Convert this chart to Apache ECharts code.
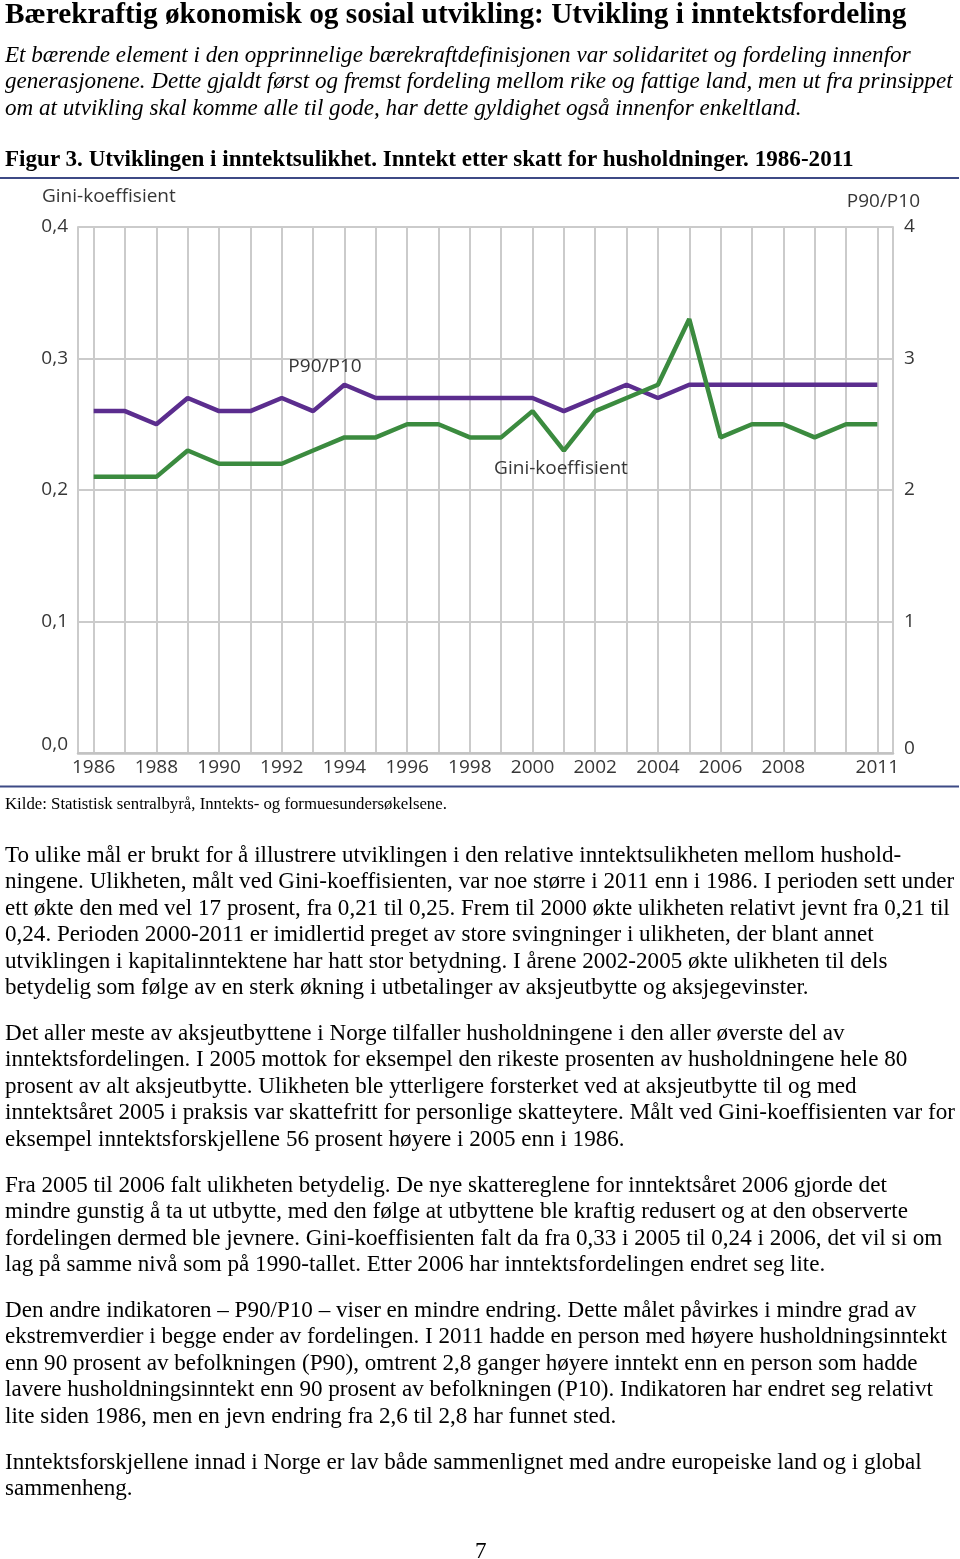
<!DOCTYPE html>
<html><head><meta charset="utf-8">
<script src="https://cdn.jsdelivr.net/npm/echarts@6/dist/echarts.min.js"></script>
<style>
html,body{margin:0;padding:0;background:#fff;}
#page{position:relative;width:960px;height:1559px;overflow:hidden;background:#fff;}
#chart{position:absolute;left:0;top:0;width:960px;height:1559px;}
.t{position:absolute;white-space:nowrap;font-family:"Liberation Serif","Times New Roman",serif;color:#000;line-height:1;}
</style></head><body>
<div id="page"><div id="chart"></div></div>
<script>
// ---------- data ----------
const years = ['1986','1987','1988','1989','1990','1991','1992','1993','1994','1995','1996','1997','1998','1999','2000','2001','2002','2003','2004','2005','2006','2007','2008','2009','2010','2011'];
const labelYears = ['1986','1988','1990','1992','1994','1996','1998','2000','2002','2004','2006','2008','2011'];
const gini = [0.21,0.21,0.21,0.23,0.22,0.22,0.22,0.23,0.24,0.24,0.25,0.25,0.24,0.24,0.26,0.23,0.26,0.27,0.28,0.33,0.24,0.25,0.25,0.24,0.25,0.25];
const p90p10 = [2.6,2.6,2.5,2.7,2.6,2.6,2.7,2.6,2.8,2.7,2.7,2.7,2.7,2.7,2.7,2.6,2.7,2.8,2.7,2.8,2.8,2.8,2.8,2.8,2.8,2.8];
const giniAxisTitle = 'Gini-koeffisient';
const ratioAxisTitle = 'P90/P10';
const giniLineLabel = 'Gini-koeffisient';
const ratioLineLabel = 'P90/P10';

// ---------- page text ----------
const titleText = 'Bærekraftig økonomisk og sosial utvikling: Utvikling i inntektsfordeling';
const introLines = [
  'Et bærende element i den opprinnelige bærekraftdefinisjonen var solidaritet og fordeling innenfor',
  'generasjonene. Dette gjaldt først og fremst fordeling mellom rike og fattige land, men ut fra prinsippet',
  'om at utvikling skal komme alle til gode, har dette gyldighet også innenfor enkeltland.'
];
const figureCaption = 'Figur 3. Utviklingen i inntektsulikhet. Inntekt etter skatt for husholdninger. 1986-2011';
const sourceText = 'Kilde: Statistisk sentralbyrå, Inntekts- og formuesundersøkelsene.';
const bodyParagraphs = [
  ['To ulike mål er brukt for å illustrere utviklingen i den relative inntektsulikheten mellom hushold-',
   'ningene. Ulikheten, målt ved Gini-koeffisienten, var noe større i 2011 enn i 1986. I perioden sett under',
   'ett økte den med vel 17 prosent, fra 0,21 til 0,25. Frem til 2000 økte ulikheten relativt jevnt fra 0,21 til',
   '0,24. Perioden 2000-2011 er imidlertid preget av store svingninger i ulikheten, der blant annet',
   'utviklingen i kapitalinntektene har hatt stor betydning. I årene 2002-2005 økte ulikheten til dels',
   'betydelig som følge av en sterk økning i utbetalinger av aksjeutbytte og aksjegevinster.'],
  ['Det aller meste av aksjeutbyttene i Norge tilfaller husholdningene i den aller øverste del av',
   'inntektsfordelingen. I 2005 mottok for eksempel den rikeste prosenten av husholdningene hele 80',
   'prosent av alt aksjeutbytte. Ulikheten ble ytterligere forsterket ved at aksjeutbytte til og med',
   'inntektsåret 2005 i praksis var skattefritt for personlige skatteytere. Målt ved Gini-koeffisienten var for',
   'eksempel inntektsforskjellene 56 prosent høyere i 2005 enn i 1986.'],
  ['Fra 2005 til 2006 falt ulikheten betydelig. De nye skattereglene for inntektsåret 2006 gjorde det',
   'mindre gunstig å ta ut utbytte, med den følge at utbyttene ble kraftig redusert og at den observerte',
   'fordelingen dermed ble jevnere. Gini-koeffisienten falt da fra 0,33 i 2005 til 0,24 i 2006, det vil si om',
   'lag på samme nivå som på 1990-tallet. Etter 2006 har inntektsfordelingen endret seg lite.'],
  ['Den andre indikatoren – P90/P10 – viser en mindre endring. Dette målet påvirkes i mindre grad av',
   'ekstremverdier i begge ender av fordelingen. I 2011 hadde en person med høyere husholdningsinntekt',
   'enn 90 prosent av befolkningen (P90), omtrent 2,8 ganger høyere inntekt enn en person som hadde',
   'lavere husholdningsinntekt enn 90 prosent av befolkningen (P10). Indikatoren har endret seg relativt',
   'lite siden 1986, men en jevn endring fra 2,6 til 2,8 har funnet sted.'],
  ['Inntektsforskjellene innad i Norge er lav både sammenlignet med andre europeiske land og i global',
   'sammenheng.']
];
const pageNumber = '7';

// ---------- layout helpers ----------
const page = document.getElementById('page');
const cv = document.createElement('canvas').getContext('2d');
const SERIF = '"Liberation Serif","Times New Roman",serif';
function fit(text, style, weight, target) {
  cv.font = style + ' ' + weight + ' 100px ' + SERIF;
  return 100 * target / cv.measureText(text).width;
}
function put(text, x, baseline, fs, style, weight) {
  const d = document.createElement('div');
  d.className = 't';
  d.textContent = text;
  d.style.left = x + 'px';
  d.style.top = (baseline - 0.8375 * fs) + 'px';
  d.style.fontSize = fs + 'px';
  d.style.fontStyle = style;
  d.style.fontWeight = weight;
  page.appendChild(d);
}
const titleFs = fit(titleText, 'normal', 'bold', 902);
put(titleText, 5, 24, titleFs, 'normal', 'bold');
const introFs = fit(introLines[1], 'italic', 'normal', 948);
introLines.forEach((l, i) => put(l, 5, 62 + i * 26.6, introFs, 'italic', 'normal'));
const capFs = fit(figureCaption, 'normal', 'bold', 850);
put(figureCaption, 5, 166, capFs, 'normal', 'bold');
const srcFs = fit(sourceText, 'normal', 'normal', 442);
put(sourceText, 5, 810, srcFs, 'normal', 'normal');
const bodyFs = fit(bodyParagraphs[0][2], 'normal', 'normal', 945);
const paraStarts = [862, 1040, 1192, 1317, 1469];
bodyParagraphs.forEach((p, pi) => p.forEach((l, i) => put(l, 5, paraStarts[pi] + i * 26.5, bodyFs, 'normal', 'normal')));
const pn = document.createElement('div');
pn.className = 't'; pn.textContent = pageNumber; pn.style.fontSize = bodyFs + 'px';
pn.style.left = '475px'; pn.style.top = (1558 - 0.8375 * bodyFs) + 'px';
page.appendChild(pn);

// ---------- chart ----------
const SANS = '"Open Sans", "Noto Sans", sans-serif';
const TXT = '#363636';
const GRID = '#cbcbcb';
const FS = 19;
const chart = echarts.init(document.getElementById('chart'), null, {renderer: 'canvas'});
const option = {
  animation: false,
  grid: {left: 78, right: 67, top: 227, height: 526},
  xAxis: {
    type: 'category', data: years, boundaryGap: true,
    axisLine: {show: true, lineStyle: {color: '#c2c2c2', width: 2.5}},
    axisTick: {show: false},
    axisLabel: {interval: (i, v) => labelYears.includes(v), color: TXT, fontFamily: SANS, fontSize: FS, margin: 5},
    splitLine: {show: true, interval: 0, alignWithLabel: true, lineStyle: {color: GRID, width: 2}}
  },
  yAxis: [
    {type: 'value', position: 'left', min: 0, max: 0.4, interval: 0.1,
     axisLine: {show: true, lineStyle: {color: GRID, width: 2}}, axisTick: {show: false},
     axisLabel: {margin: 10, color: TXT, fontFamily: SANS, fontSize: FS,
       formatter: v => { const s = v.toFixed(1).replace('.', ','); return v === 0 ? '{z|' + s + '}' : s; },
       rich: {z: {padding: [0, 0, 16, 0], color: TXT, fontFamily: SANS, fontSize: FS}}},
     splitLine: {show: true, lineStyle: {color: GRID, width: 2}}},
    {type: 'value', position: 'right', min: 0, max: 4, interval: 1,
     axisLine: {show: true, lineStyle: {color: GRID, width: 2}}, axisTick: {show: false},
     axisLabel: {margin: 11, color: TXT, fontFamily: SANS, fontSize: FS,
       formatter: v => v === 0 ? '{z|0}' : String(v),
       rich: {z: {padding: [0, 0, 8, 0], color: TXT, fontFamily: SANS, fontSize: FS}}},
     splitLine: {show: false}}
  ],
  series: [
    {name: ratioLineLabel, type: 'line', yAxisIndex: 1, data: p90p10, symbol: 'none',
     lineStyle: {color: '#5b2d8e', width: 4.5}, z: 3},
    {name: giniLineLabel, type: 'line', yAxisIndex: 0, data: gini, symbol: 'none',
     lineStyle: {color: '#3b8b3f', width: 4.5}, z: 4}
  ],
  graphic: [
    {type: 'rect', z: 100, shape: {x: 0, y: 177, width: 959, height: 2}, style: {fill: '#3d4a85'}},
    {type: 'rect', z: 100, shape: {x: 0, y: 785.5, width: 959, height: 2}, style: {fill: '#3d4a85'}},
    {type: 'text', z: 100, x: 42, y: 197, style: {text: giniAxisTitle, fill: TXT, font: FS + 'px ' + SANS, textVerticalAlign: 'middle'}},
    {type: 'text', z: 100, x: 920, y: 202, style: {text: ratioAxisTitle, fill: TXT, font: FS + 'px ' + SANS, textAlign: 'right', textVerticalAlign: 'middle'}},
    {type: 'text', z: 100, x: 325, y: 367, style: {text: ratioLineLabel, fill: TXT, font: FS + 'px ' + SANS, textAlign: 'center', textVerticalAlign: 'middle'}},
    {type: 'text', z: 100, x: 561, y: 469, style: {text: giniLineLabel, fill: TXT, font: FS + 'px ' + SANS, textAlign: 'center', textVerticalAlign: 'middle'}}
  ]
};
chart.setOption(option);
</script>
</body></html>
